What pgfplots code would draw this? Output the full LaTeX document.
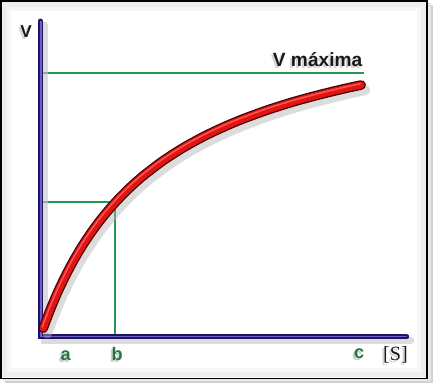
\documentclass[border=0pt]{standalone}
\usepackage{pgfplots}
\pgfplotsset{compat=1.18}
\usepackage{fontspec}
\setmainfont{Liberation Sans}
\newfontfamily\timesf{Liberation Serif}
\definecolor{axdark}{RGB}{30,18,100}
\definecolor{axlight}{RGB}{110,95,200}
\definecolor{vgreen}{RGB}{40,150,90}
\definecolor{lgreen}{RGB}{35,120,65}
\definecolor{cred}{RGB}{225,20,20}
\definecolor{cdark}{RGB}{70,0,0}
\definecolor{txt}{RGB}{25,25,25}
\begin{document}
\begin{tikzpicture}
\begin{axis}[
  width=433bp, height=384bp, scale only axis,
  xmin=-43, xmax=390, ymin=-48, ymax=336,
  axis lines=none, ticks=none, clip=false,
]
% frame and shadow
\fill[gray!35] (axis cs:-35,328) rectangle (axis cs:388,-46);
\fill[gray!18] (axis cs:-37,330) rectangle (axis cs:386,-44);
\fill[white] (axis cs:-39,332) rectangle (axis cs:382,-41);
\draw[gray!14, line width=6bp] (axis cs:-35,328) rectangle (axis cs:378,-37);
\draw[gray!7, line width=4bp] (axis cs:-31,324) rectangle (axis cs:374,-33);
\draw[black, line width=1.6bp] (axis cs:-39,332) rectangle (axis cs:382,-41);

% green lines
\addplot[vgreen, line width=1.8bp] coordinates {(0,261) (320,261)};
\addplot[vgreen, line width=1.6bp] coordinates {(0,133) (74,133) (74,0)};

% axes (shadow, dark, light)
\addplot[gray!45, opacity=0.6, line width=7bp, line cap=round, shift={(axis direction cs:4,-4)}] coordinates {(0,312) (0,0) (362,0)};
\addplot[axdark, line width=5bp, line cap=round] coordinates {(0,312) (0,0) (362,0)};
\addplot[axlight, line width=1.6bp, line cap=round, shift={(axis direction cs:0.5,0.5)}] coordinates {(0,311) (0,0) (361,0)};

% curve shadow
\addplot[gray!60, opacity=0.45, line width=10bp, line cap=round, smooth, shift={(axis direction cs:4,-5)}] coordinates {
(3,8.6)(5,14.1)(10,27.1)(15,39.1)(20,50.2)(30,70.1)(40,87.5)(50,102.7)(60,116.2)(72,130.5)(85,144.1)(100,157.7)(120,173.1)(140,186.1)(160,197.2)(180,206.8)(200,215.2)(225,224.3)(250,232.2)(275,239.0)(300,245.1)(317,248.8)};
% curve outline
\addplot[cdark, line width=9.5bp, line cap=round, smooth] coordinates {
(3,8.6)(5,14.1)(10,27.1)(15,39.1)(20,50.2)(30,70.1)(40,87.5)(50,102.7)(60,116.2)(72,130.5)(85,144.1)(100,157.7)(120,173.1)(140,186.1)(160,197.2)(180,206.8)(200,215.2)(225,224.3)(250,232.2)(275,239.0)(300,245.1)(317,248.8)};
% curve body
\addplot[cred, line width=7bp, line cap=round, smooth] coordinates {
(3,8.6)(5,14.1)(10,27.1)(15,39.1)(20,50.2)(30,70.1)(40,87.5)(50,102.7)(60,116.2)(72,130.5)(85,144.1)(100,157.7)(120,173.1)(140,186.1)(160,197.2)(180,206.8)(200,215.2)(225,224.3)(250,232.2)(275,239.0)(300,245.1)(317,248.8)};
% highlight
\addplot[red!55!white, opacity=0.7, line width=1.5bp, line cap=round, smooth, shift={(axis direction cs:-1,1.2)}] coordinates {
(3,8.6)(5,14.1)(10,27.1)(15,39.1)(20,50.2)(30,70.1)(40,87.5)(50,102.7)(60,116.2)(72,130.5)(85,144.1)(100,157.7)(120,173.1)(140,186.1)(160,197.2)(180,206.8)(200,215.2)(225,224.3)(250,232.2)(275,239.0)(300,245.1)(317,248.8)};

% label shadows (down-left)
\node[gray!60, opacity=0.55, font=\fontsize{17}{19}\selectfont\bfseries] at (axis cs:-16,300) {V};
\node[gray!60, opacity=0.55, anchor=base, font=\fontsize{19}{22}\selectfont\bfseries] at (axis cs:272,265) {V máxima};
\node[gray!70, opacity=0.55, anchor=base, font=\fontsize{18}{20}\selectfont\bfseries] at (axis cs:23,-25) {a};
\node[gray!70, opacity=0.55, anchor=base, font=\fontsize{18}{20}\selectfont\bfseries] at (axis cs:74,-25) {b};
\node[gray!70, opacity=0.55, anchor=base, font=\fontsize{18}{20}\selectfont\bfseries] at (axis cs:313,-23) {c};
\node[gray!60, opacity=0.55, anchor=base, font=\timesf\fontsize{20}{22}\selectfont] at (axis cs:349,-25) {[S]};
% labels
\node[txt, font=\fontsize{17}{19}\selectfont\bfseries] at (axis cs:-14,302) {V};
\node[txt, anchor=base, font=\fontsize{19}{22}\selectfont\bfseries] at (axis cs:274,267) {V máxima};
\node[lgreen, anchor=base, font=\fontsize{18}{20}\selectfont\bfseries] at (axis cs:25,-23) {a};
\node[lgreen, anchor=base, font=\fontsize{18}{20}\selectfont\bfseries] at (axis cs:76,-23) {b};
\node[lgreen, anchor=base, font=\fontsize{18}{20}\selectfont\bfseries] at (axis cs:315,-21) {c};
\node[txt, anchor=base, font=\timesf\fontsize{20}{22}\selectfont] at (axis cs:351,-23) {[S]};
\end{axis}
\end{tikzpicture}
\end{document}
